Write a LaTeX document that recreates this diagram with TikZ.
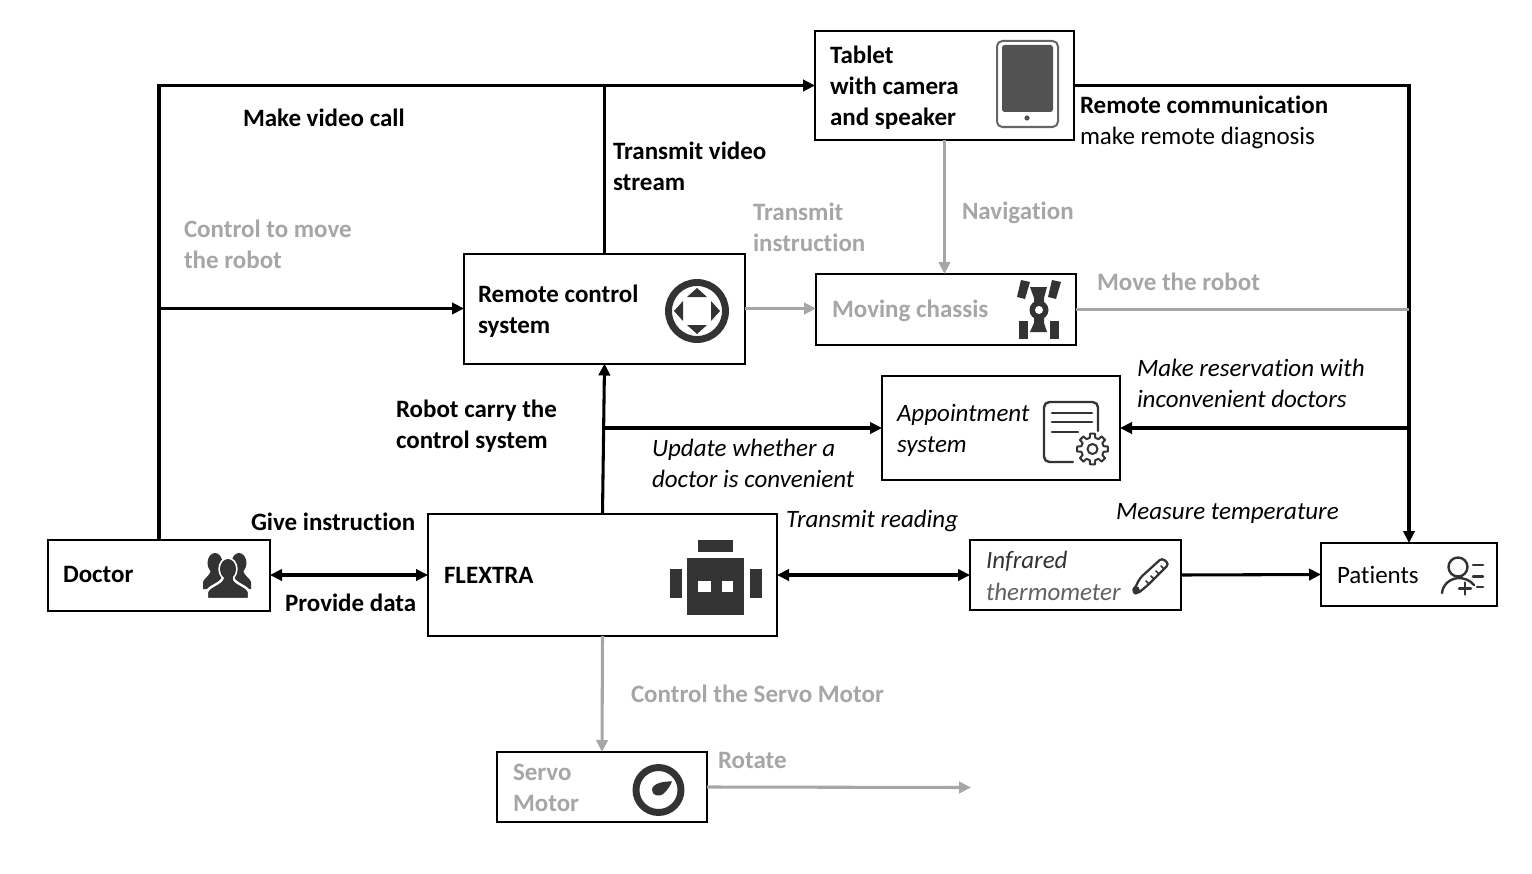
\documentclass[tikz,border=0pt]{standalone}
\usepackage{fontspec}
\setmainfont{Carlito}[Ligatures=NoCommon]
\usetikzlibrary{arrows.meta}
\def\px{0.75pt}
\definecolor{icondark}{HTML}{333333}
\definecolor{flowgray}{HTML}{A6A6A6}
\tikzset{
  nodebox/.style={draw=black,line width=1.5pt,fill=white,inner sep=0pt,outer sep=0pt},
  lab/.style={anchor=west,inner sep=0pt,outer sep=0pt,align=left,text=black,font=\fontsize{18.75}{23.25}\selectfont},
  boldlab/.style={lab,font=\fontsize{18.75}{23.25}\selectfont\bfseries},
  graylab/.style={boldlab,text=flowgray},
  itlab/.style={lab,font=\fontsize{18.75}{23.25}\selectfont\itshape},
  flow/.style={line width=2.3pt,-{Triangle[length=9pt,width=8.5pt]}},
  flowboth/.style={line width=2.3pt,{Triangle[length=9pt,width=8.5pt]}-{Triangle[length=9pt,width=8.5pt]}},
  trunk/.style={line width=2.3pt},
  grayflow/.style={flow,draw=flowgray},
  graytrunk/.style={trunk,draw=flowgray},
  iconline/.style={draw=icondark,line width=1.8pt,line cap=round,line join=round}
}
\begin{document}
\begin{tikzpicture}[x=0.75pt,y=0.75pt,yscale=-1,xscale=1]
\useasboundingbox (0,0) rectangle (1532,874);

% boxes
\node[nodebox,minimum width=259*\px,minimum height=109*\px] (tablet) at (944.5,85.5) {};
\node[nodebox,minimum width=281*\px,minimum height=110*\px] (remote) at (604.5,308.5) {};
\node[nodebox,minimum width=260*\px,minimum height=71*\px] (chassis) at (946,309.5) {};
\node[nodebox,minimum width=238*\px,minimum height=104*\px] (appoint) at (1001,428) {};
\node[nodebox,minimum width=222*\px,minimum height=71*\px] (doctor) at (159,575) {};
\node[nodebox,minimum width=349*\px,minimum height=122*\px] (flextra) at (602.5,575) {};
\node[nodebox,minimum width=211*\px,minimum height=70*\px] (thermo) at (1075.5,575) {};
\node[nodebox,minimum width=176*\px,minimum height=63*\px] (patients) at (1409,574.5) {};
\node[nodebox,minimum width=210*\px,minimum height=70*\px] (servo) at (602,787) {};
\coordinate (rotateend) at (971,787.5);

% connectors
\coordinate (robotjoin) at (604,428);
\draw[flow] (doctor.north) |- (tablet.west);
\draw[flow] (doctor.north |- remote.west) -- (remote.west);
\draw[trunk] (remote.north) -- (remote.north |- tablet.west);
\draw[flow] (tablet.east) -| (patients.north);
\draw[grayflow] (tablet.south) -- (tablet.south |- chassis.north);
\draw[grayflow] (remote.east) -- (remote.east -| chassis.west);
\draw[graytrunk] (chassis.east) -- (chassis.east -| patients.north);
\draw[flow] (flextra.north) -- (remote.south);
\draw[flow] (robotjoin) -- (appoint.west);
\draw[flow] (appoint.east -| patients.north) -- (appoint.east);
\draw[flowboth] (doctor.east) -- (flextra.west);
\draw[flowboth] (flextra.east) -- (thermo.west);
\draw[flow] (thermo.east) -- (patients.west);
\draw[grayflow] (flextra.south) -- (servo.north);
\draw[grayflow] (servo.east) -- (rotateend);

% box texts
\node[boldlab] (tablettext) at (830,88) {Tablet\\with camera\\and speaker};
\node[boldlab] (remotetext) at (478,311) {Remote control\\system};
\node[graylab] (chassistext) at (832,310.5) {Moving chassis};
\node[itlab] (appointtext) at (897,430.5) {Appointment\\system};
\node[boldlab] (doctortext) at (63,574.5) {Doctor};
\node[boldlab] (flextratext) at (444,575) {FLEXTRA};
\node[itlab,text=icondark] (infraredtext) at (986,561) {Infrared};
\node[itlab,text=black!62] (thermotext) at (986,591.5) {thermometer};
\node[lab] (patientstext) at (1337,574.5) {Patients};
\node[graylab] (servotext) at (513,788) {Servo\\Motor};

% connector labels
\node[boldlab] (calllabel) at (243,118) {Make video call};
\node[graylab] (movelabel) at (184,244) {Control to move\\the robot};
\node[boldlab] (videolabel) at (613,166) {Transmit video\\stream};
\node[graylab] (instrlabel) at (753,227) {Transmit\\instruction};
\node[graylab] (navlabel) at (962,213) {Navigation};
\node[boldlab] (commlabel) at (1080,105) {Remote communication};
\node[lab] (diaglabel) at (1080,138) {make remote diagnosis};
\node[graylab] (robotlabel) at (1097,281.5) {Move the robot};
\node[itlab] (reservelabel) at (1137,383) {Make reservation with\\inconvenient doctors};
\node[boldlab] (carrylabel) at (396,426.5) {Robot carry the\\control system};
\node[itlab] (updatelabel) at (652,463) {Update whether a\\doctor is convenient};
\node[boldlab] (givelabel) at (251,522) {Give instruction};
\node[boldlab] (datalabel) at (285,603) {Provide data};
\node[itlab] (readinglabel) at (786,521) {Transmit reading};
\node[itlab] (measurelabel) at (1116,513.5) {Measure temperature};
\node[graylab] (servolabel) at (631,694) {Control the Servo Motor};
\node[graylab] (rotatelabel) at (718,760.5) {Rotate};

% tablet icon
\draw[draw=black!60,line width=1.5pt,rounded corners=4pt] (997,41) rectangle (1058,127);
\fill[black!68,rounded corners=2pt] (1002,45) rectangle (1053,112);
\fill[black!68] (1027,118) circle (2.6);

% remote control icon
\draw[draw=icondark,line width=5.2pt] (697,311) circle (28.5);
\fill[icondark] (697,288) -- (707,297) -- (687,297) -- cycle;
\fill[icondark] (697,334) -- (707,325) -- (687,325) -- cycle;
\fill[icondark] (674,311) -- (683,301) -- (683,321) -- cycle;
\fill[icondark] (720,311) -- (711,301) -- (711,321) -- cycle;

% chassis icon
\fill[icondark] (1021,280) -- (1030,282) -- (1025,299) -- (1017,297) -- cycle;
\fill[icondark] (1052,280) -- (1061,282) -- (1056,299) -- (1048,297) -- cycle;
\fill[icondark] (1019,321) rectangle (1028,339);
\fill[icondark] (1050,321) rectangle (1059,339);
\fill[icondark] (1030,287) -- (1047,287) -- (1044,298) -- (1044,323) -- (1047,332) -- (1030,332) -- (1034,323) -- (1034,298) -- cycle;
\fill[icondark] (1039,310) circle (9.5);
\fill[white] (1039,310) circle (4);

% appointment icon
\draw[iconline,rounded corners=4pt] (1073,462) -- (1044,462) -- (1044,402) -- (1098,402) -- (1098,431);
\draw[iconline] (1052,413) -- (1092,413);
\draw[iconline] (1052,422) -- (1092,422);
\draw[iconline] (1052,432) -- (1078,432);
\begin{scope}[shift={(1092.5,449)}]
  \foreach \a in {0,45,...,315}
    \draw[iconline,line width=1.5pt] (\a-9:15.5) -- (\a+9:15.5) -- (\a+14:11.5) -- (\a+31:11.5) -- (\a+36:15.5);
  \draw[iconline,line width=1.5pt] (0,0) circle (5);
\end{scope}

% doctor icon
\foreach \cx/\cy in {215/563,239/563} {
  \begin{scope}[shift={(\cx,\cy)}]
    \fill[icondark] (0,0) ellipse (7.5 and 10);
    \fill[icondark] (-12,26) -- (-12,19) .. controls (-11,15) and (-5,13) .. (-4,7) -- (4,7) .. controls (5,13) and (11,15) .. (12,19) -- (12,26) -- cycle;
  \end{scope}
}
\begin{scope}[shift={(228,569)}]
  \draw[white,line width=1.8pt,fill=icondark] (0,0) ellipse (8.5 and 10.5);
  \draw[white,line width=1.8pt,fill=icondark] (-21,30) -- (-21,23) .. controls (-20,17) and (-6,15) .. (-5,8) -- (5,8) .. controls (6,15) and (20,17) .. (21,23) -- (21,30) -- cycle;
  \fill[icondark] (0,0) ellipse (8 and 10);
  \fill[icondark] (-4.5,5) rectangle (4.5,12);
\end{scope}

% robot icon
\fill[icondark] (698,540) rectangle (733,552);
\fill[icondark] (687,558) rectangle (744,615);
\fill[icondark] (670,569) rectangle (682,598);
\fill[icondark] (750,569) rectangle (762,598);
\fill[white] (698,581) rectangle (711,592);
\fill[white] (722,581) rectangle (733,592);

% thermometer icon
\draw[iconline,line width=1.7pt,rounded corners=2.5pt] (1133,592) -- (1140,578) -- (1162,558) -- (1169,564) -- (1148,585) -- (1137,594) -- cycle;
\fill[icondark] (1136,590) circle (3.8);
\foreach \tx/\ty in {1149/584,1154/579,1159/574,1164/569}
  \draw[iconline,line width=1.2pt] (\tx,\ty) -- ++(-3,-3);

% patient icon
\draw[iconline] (1458,567) circle (9.5);
\draw[iconline] (1442,593) .. controls (1443,584) and (1450,579) .. (1458,578) .. controls (1464,578) and (1470,580) .. (1474,585);
\draw[iconline,line width=1.6pt] (1465,582.5) -- (1465,594.5);
\draw[iconline,line width=1.6pt] (1459,588.5) -- (1471,588.5);
\draw[iconline] (1473,565) -- (1483,565);
\draw[iconline] (1473,576.5) -- (1483,576.5);
\draw[iconline] (1477,587) -- (1483,587);

% servo icon
\draw[draw=icondark,line width=5.2pt] (658.5,790) circle (22.5);
\fill[icondark] (672,781.5) .. controls (665,781) and (652,783) .. (652,790) .. controls (652,796) and (660,797) .. (663,794) .. controls (667,791) and (670,786) .. (672,781.5) -- cycle;

\end{tikzpicture}
\end{document}
